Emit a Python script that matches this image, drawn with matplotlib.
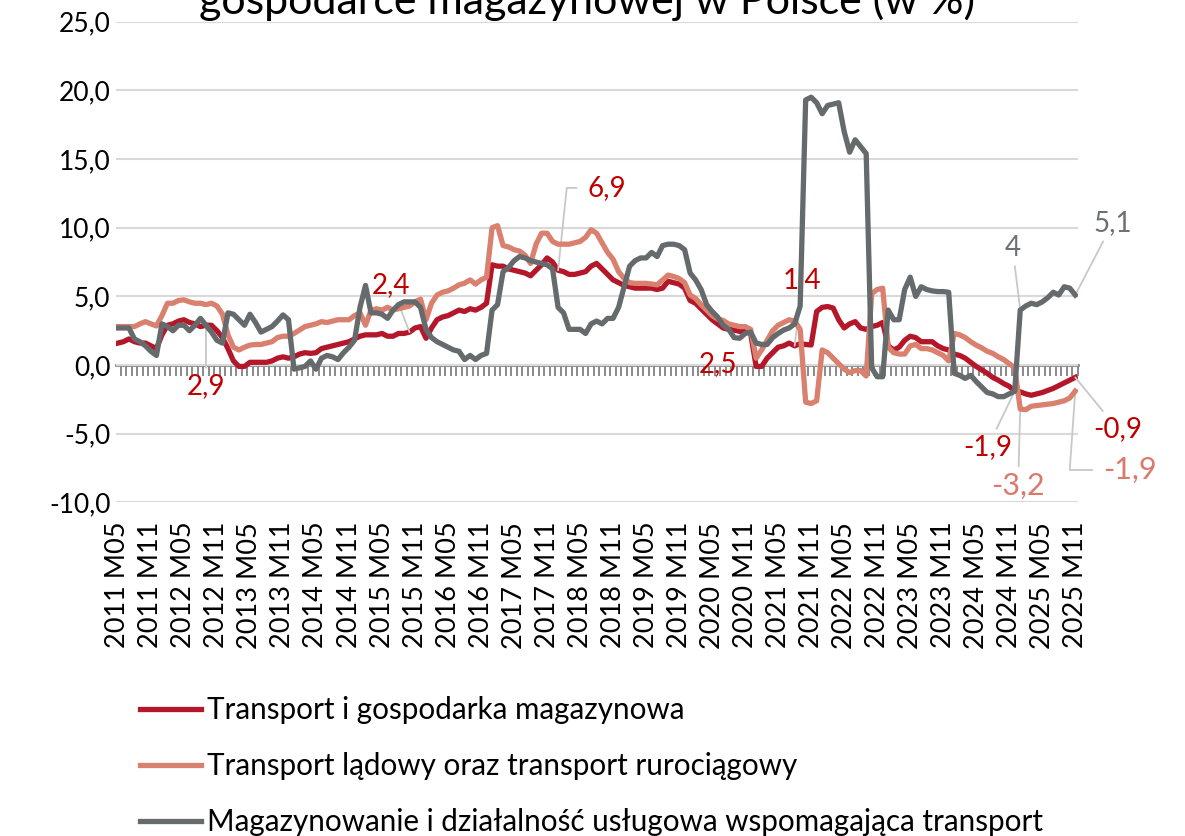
import numpy as np
import matplotlib
matplotlib.use("Agg")
import matplotlib.pyplot as plt
from matplotlib.lines import Line2D

plt.rcParams["font.family"] = ["Lato", "DejaVu Sans"]

# monthly categories 2011 M05 .. 2025 M11
all_months = [f"{y} M{m:02d}" for y in range(2011, 2026) for m in range(1, 13)]
months = all_months[all_months.index("2011 M05"):all_months.index("2025 M11") + 1]

# Transport i gospodarka magazynowa
red = [
    1.6, 1.7, 1.9, 1.7, 1.6, 1.6, 1.4, 1.2, 2.2, 2.9, 3.0, 3.2,
    3.3, 3.1, 3.0, 2.8, 2.9, 2.9, 2.5, 2.0, 1.2, 0.3, -0.1, -0.1,
    0.2, 0.2, 0.2, 0.2, 0.3, 0.5, 0.6, 0.5, 0.6, 0.8, 0.9, 0.85,
    0.9, 1.2, 1.3, 1.4, 1.5, 1.6, 1.7, 1.9, 2.1, 2.2, 2.2, 2.2,
    2.3, 2.1, 2.1, 2.3, 2.3, 2.4, 2.7, 2.8, 1.95, 2.7, 3.3, 3.5,
    3.6, 3.8, 4.0, 3.9, 4.1, 4.0, 4.2, 4.5, 7.3, 7.2, 7.2, 7.0,
    6.9, 6.8, 6.7, 6.5, 6.9, 7.3, 7.8, 7.5, 6.9, 6.8, 6.6, 6.6,
    6.7, 6.8, 7.2, 7.4, 7.0, 6.6, 6.2, 6.0, 5.8, 5.7, 5.6, 5.6,
    5.6, 5.6, 5.5, 5.6, 6.1, 6.0, 5.9, 5.6, 4.7, 4.5, 4.1, 3.7,
    3.3, 3.0, 2.7, 2.6, 2.55, 2.45, 2.5, 2.3, -0.1, -0.1, 0.5, 0.9,
    1.3, 1.4, 1.6, 1.4, 1.55, 1.5, 1.46, 3.9, 4.2, 4.26, 4.15, 3.3,
    2.7, 3.0, 3.16, 2.7, 2.6, 2.8, 2.9, 3.1, 1.4, 1.1, 1.3, 1.8,
    2.1, 2.0, 1.7, 1.7, 1.7, 1.4, 1.2, 1.1, 0.8, 0.7, 0.5, 0.2,
    -0.1, -0.35, -0.6, -0.9, -1.1, -1.35, -1.55, -1.9, -1.95, -2.1, -2.2, -2.1,
    -2.0, -1.85, -1.7, -1.5, -1.3, -1.1, -0.9,
]

# Transport lądowy oraz transport rurociągowy
light = [
    2.8, 2.8, 2.8, 2.8, 3.0, 3.16, 3.0, 2.85, 3.6, 4.5, 4.5, 4.7,
    4.75, 4.6, 4.5, 4.5, 4.4, 4.5, 4.3, 3.7, 2.2, 1.3, 1.1, 1.3,
    1.45, 1.5, 1.5, 1.6, 1.7, 2.0, 2.1, 2.1, 2.3, 2.55, 2.8, 2.9,
    3.0, 3.16, 3.1, 3.2, 3.3, 3.3, 3.3, 3.6, 3.8, 2.9, 4.0, 4.1,
    4.0, 4.2, 4.0, 4.1, 4.2, 4.3, 4.6, 4.8, 3.3, 4.5, 5.1, 5.3,
    5.4, 5.6, 5.84, 5.96, 6.2, 5.9, 6.2, 6.4, 10.0, 10.15, 8.7, 8.6,
    8.4, 8.3, 8.0, 7.4, 8.8, 9.6, 9.6, 9.0, 8.8, 8.8, 8.8, 8.9,
    9.0, 9.3, 9.85, 9.6, 8.9, 8.2, 7.7, 6.8, 6.3, 6.0, 5.95, 5.95,
    5.95, 5.9, 5.84, 6.2, 6.55, 6.45, 6.3, 6.0, 5.1, 4.85, 4.4, 4.0,
    3.6, 3.35, 3.25, 3.0, 2.9, 2.8, 2.8, 2.6, 0.5, 1.1, 1.8, 2.5,
    2.9, 3.1, 3.3, 3.2, 2.6, -2.7, -2.8, -2.6, 1.1, 0.9, 0.5, 0.1,
    -0.3, -0.55, -0.4, -0.4, -0.8, 5.2, 5.5, 5.6, 1.3, 0.9, 0.8, 0.8,
    1.4, 1.5, 1.2, 1.2, 1.1, 0.9, 0.7, 0.3, 2.3, 2.2, 2.0, 1.7,
    1.45, 1.25, 1.0, 0.85, 0.6, 0.4, 0.1, -0.2, -3.2, -3.25, -3.0, -2.95,
    -2.9, -2.85, -2.8, -2.7, -2.6, -2.4, -1.9,
]

# Magazynowanie i działalność usługowa wspomagająca transport
gray = [
    2.7, 2.7, 2.7, 1.9, 1.7, 1.4, 1.0, 0.7, 3.0, 2.8, 2.5, 2.9,
    2.9, 2.5, 2.9, 3.4, 2.9, 2.4, 1.8, 1.6, 3.8, 3.7, 3.3, 2.9,
    3.7, 3.1, 2.4, 2.6, 2.8, 3.2, 3.65, 3.3, -0.3, -0.2, -0.1, 0.3,
    -0.3, 0.5, 0.7, 0.6, 0.4, 0.9, 1.3, 1.8, 4.2, 5.8, 3.8, 3.8,
    3.7, 3.4, 4.0, 4.4, 4.6, 4.6, 4.6, 4.2, 2.6, 2.0, 1.7, 1.5,
    1.3, 1.1, 1.0, 0.4, 0.7, 0.4, 0.7, 0.85, 4.0, 4.4, 6.8, 7.1,
    7.6, 7.9, 7.8, 7.6, 7.5, 7.4, 7.3, 7.0, 4.2, 3.8, 2.6, 2.6,
    2.6, 2.3, 3.0, 3.2, 3.0, 3.4, 3.4, 4.2, 5.7, 7.2, 7.6, 7.8,
    7.8, 8.2, 7.9, 8.7, 8.8, 8.8, 8.7, 8.4, 6.7, 6.2, 5.5, 4.4,
    3.9, 3.5, 2.9, 2.6, 2.0, 1.95, 2.3, 2.4, 1.6, 1.5, 1.5, 2.0,
    2.3, 2.55, 2.7, 3.0, 4.3, 19.3, 19.5, 19.1, 18.3, 18.9, 19.0, 19.1,
    17.0, 15.5, 16.4, 15.9, 15.4, -0.2, -0.85, -0.85, 4.0, 3.3, 3.3, 5.5,
    6.4, 5.0, 5.7, 5.5, 5.4, 5.35, 5.35, 5.3, -0.6, -0.75, -0.97, -0.75,
    -1.2, -1.6, -2.0, -2.1, -2.3, -2.3, -2.1, -1.9, 4.0, 4.3, 4.5, 4.4,
    4.6, 4.9, 5.3, 5.1, 5.7, 5.6, 5.1,
]

series_names = [
    "Transport i gospodarka magazynowa",
    "Transport lądowy oraz transport rurociągowy",
    "Magazynowanie i działalność usługowa wspomagająca transport",
]
title_text = "gospodarce magazynowej w Polsce (w %)"

c_red = "#B5172A"
c_light = "#D9806F"
c_gray = "#656A6C"
c_red_txt = "#C00000"
c_light_txt = "#D97A6C"
c_gray_txt = "#6E7173"
c_leader = "#C8C8C8"

x = np.arange(len(months))

fig = plt.figure(figsize=(11.85, 8.36), dpi=100)
ax = fig.add_axes([116 / 1185, 1 - 502.4 / 836, (1078 - 116) / 1185, (502.4 - 21.7) / 836])

lw = 3.8
ax.plot(x, red, color=c_red, lw=lw, solid_joinstyle="round", zorder=3)
ax.plot(x, light, color=c_light, lw=lw, solid_joinstyle="round", zorder=4)
ax.plot(x, gray, color=c_gray, lw=lw, solid_joinstyle="round", zorder=5)

ax.set_xlim(-0.35, 174.5)
ax.set_ylim(-10, 25)
ax.set_yticks(np.arange(-10, 26, 5))
ax.set_yticklabels([f"{v:.1f}".replace(".", ",") for v in np.arange(-10, 26, 5)])
ax.tick_params(axis="y", length=0, pad=4, labelsize=19)
ax.yaxis.grid(True, color="#D9D9D9", lw=1.5)
ax.set_axisbelow(True)
for s in ax.spines.values():
    s.set_visible(False)

ax.set_xticks(x[::6])
ax.set_xticklabels(months[::6], rotation=90, fontsize=19.5)
ax.tick_params(axis="x", length=0, pad=14)

# zero axis with monthly tick marks
zero_ax = ax.secondary_xaxis(10 / 35)
zero_ax.set_xticks(np.arange(-0.5, 175, 1))
zero_ax.tick_params(axis="x", direction="out", length=8, width=1.4,
                    color="#8A8A8A", labelbottom=False)
zero_ax.spines["bottom"].set_color("#8A8A8A")
zero_ax.spines["bottom"].set_linewidth(2)

# data labels
lead = dict(arrowstyle="-", color=c_leader, lw=1.3, shrinkA=2, shrinkB=0)
ax.annotate("2,9", xy=(16, red[16]), xytext=(16.0, -1.55), color=c_red_txt,
            fontsize=20, ha="center", va="center", arrowprops=lead)
ax.annotate("2,4", xy=(53, red[53]), xytext=(49.7, 5.82), color=c_red_txt,
            fontsize=20, ha="center", va="center", arrowprops=lead)
ax.annotate("6,9", xy=(80, red[80]), xytext=(88.9, 12.9), color=c_red_txt,
            fontsize=20, ha="center", va="center",
            arrowprops=dict(lead, shrinkA=6,
                            connectionstyle="angle,angleA=0,angleB=84,rad=0"))
ax.text(109, 0.07, "2,5", color=c_red_txt, fontsize=20, ha="center", va="center")
ax.annotate("1,4", xy=(123, red[123]), xytext=(124.4, 6.19), color=c_red_txt,
            fontsize=20, ha="center", va="center", arrowprops=lead)
ax.annotate("4", xy=(164, gray[164]), xytext=(162.6, 8.55), color=c_gray_txt,
            fontsize=20, ha="center", va="center", arrowprops=lead)
ax.annotate("5,1", xy=(174, gray[174]), xytext=(180.8, 10.33), color=c_gray_txt,
            fontsize=20, ha="center", va="center", arrowprops=lead,
            annotation_clip=False)
ax.annotate("-1,9", xy=(163, red[163]), xytext=(158.1, -5.97), color=c_red_txt,
            fontsize=20, ha="center", va="center", arrowprops=lead)
ax.annotate("-3,2", xy=(164, light[164]), xytext=(163.6, -8.8), color=c_light_txt,
            fontsize=22, ha="center", va="center", arrowprops=lead)
ax.annotate("-0,9", xy=(174, red[174]), xytext=(181.7, -4.66), color=c_red_txt,
            fontsize=20, ha="center", va="center", arrowprops=lead,
            annotation_clip=False)
ax.annotate("-1,9", xy=(174, light[174]), xytext=(184.0, -7.64), color=c_light_txt,
            fontsize=22, ha="center", va="center",
            arrowprops=dict(lead, shrinkA=6,
                            connectionstyle="angle,angleA=0,angleB=86,rad=0"),
            annotation_clip=False)

fig.text(587 / 1185, 1 - 14 / 836, title_text, fontsize=31, ha="center", va="baseline")

handles = [Line2D([], [], color=c, lw=lw) for c in (c_red, c_light, c_gray)]
fig.legend(handles, series_names, loc="upper left", bbox_to_anchor=(140 / 1185, 1 - 696 / 836),
           frameon=False, fontsize=21.3, handlelength=2.05, handletextpad=0.2,
           labelspacing=0.95, borderpad=0, borderaxespad=0)

fig.savefig("out.png", dpi=100)
